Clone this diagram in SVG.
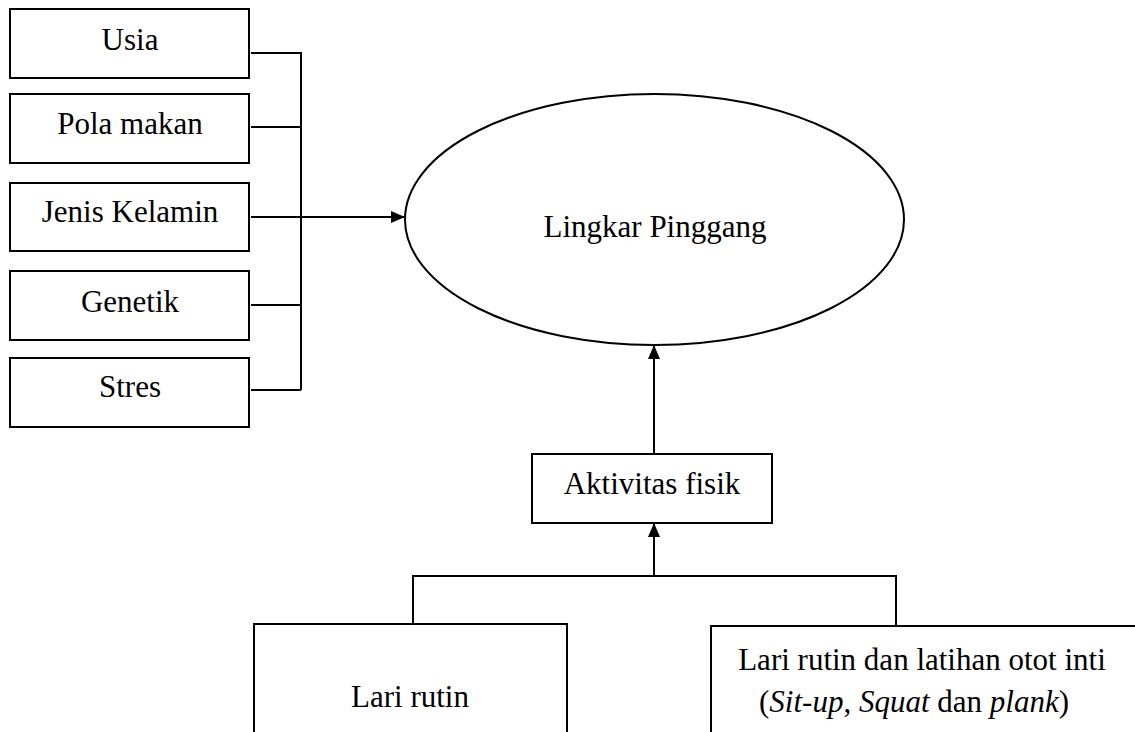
<svg xmlns="http://www.w3.org/2000/svg" width="1135" height="732" viewBox="0 0 1135 732">
<style>
.box{fill:#fff;stroke:#000;stroke-width:2}
.ln{fill:none;stroke:#000;stroke-width:2}
.t{font-size:31px;fill:#000;text-anchor:middle}
</style>
<defs>
<marker id="ah" markerWidth="14" markerHeight="12" refX="14" refY="6" orient="auto" markerUnits="userSpaceOnUse">
<path d="M0,0 L14,6 L0,12 Z" fill="#000"/>
</marker>
</defs>
<rect width="1135" height="732" fill="#fff"/>
<g font-family="Liberation Serif, Tinos, Times New Roman, serif">
<g id="n-usia"><rect class="box" x="10" y="9" width="239" height="69"/><text class="t" x="130" y="50">Usia</text></g>
<g id="n-pola"><rect class="box" x="10" y="94" width="239" height="69"/><text class="t" x="130" y="134">Pola makan</text></g>
<g id="n-jenis"><rect class="box" x="10" y="183" width="239" height="68"/><text class="t" x="130" y="222">Jenis Kelamin</text></g>
<g id="n-genetik"><rect class="box" x="10" y="271" width="239" height="69"/><text class="t" x="130" y="312">Genetik</text></g>
<g id="n-stres"><rect class="box" x="10" y="358" width="239" height="69"/><text class="t" x="130" y="397">Stres</text></g>
<g id="n-lingkar"><ellipse class="box" cx="654.5" cy="219.5" rx="249.5" ry="125.5"/><text class="t" x="655" y="237">Lingkar Pinggang</text></g>
<g id="n-aktivitas"><rect class="box" x="532" y="454" width="240" height="69"/><text class="t" x="652" y="494">Aktivitas fisik</text></g>
<g id="n-lari"><rect class="box" x="254" y="624" width="313" height="120"/><text class="t" x="410" y="707">Lari rutin</text></g>
<g id="n-lari-otot"><rect class="box" x="711" y="626" width="440" height="120"/><text class="t" x="922" y="670">Lari rutin dan latihan otot inti</text><text class="t" x="914" y="712">(<tspan font-style="italic">Sit-up</tspan>, <tspan font-style="italic">Squat</tspan> dan <tspan font-style="italic">plank</tspan>)</text></g>
</g>
<g id="connectors">
<path class="ln" d="M251,53 H301 V390 M251,127 H301 M251,305 H301 M251,390 H301"/>
<path class="ln" d="M251,217 H405" marker-end="url(#ah)"/>
<path class="ln" d="M654,454 V345" marker-end="url(#ah)"/>
<path class="ln" d="M413,624 V576 H896 V626"/>
<path class="ln" d="M654,576 V523" marker-end="url(#ah)"/>
</g>
</svg>
